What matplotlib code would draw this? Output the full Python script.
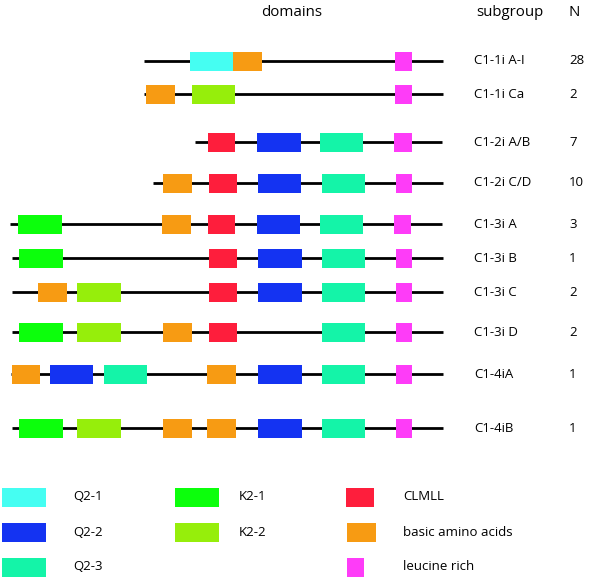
import matplotlib
matplotlib.use("Agg")
import matplotlib.pyplot as plt
from matplotlib.patches import Rectangle

plt.rcParams['font.family'] = ['Open Sans', 'DejaVu Sans']

# ---- data ----
subgroups = ["C1-1i A-I", "C1-1i Ca", "C1-2i A/B", "C1-2i C/D", "C1-3i A",
             "C1-3i B", "C1-3i C", "C1-3i D", "C1-4iA", "C1-4iB"]
counts = ["28", "2", "7", "10", "3", "1", "2", "2", "1", "1"]
line_start = [144, 144, 195, 153, 10, 12, 12, 12, 11, 12]
line_end = [443, 443, 442, 443, 442, 443, 443, 443, 443, 443]
domains = [
    [("Q2-1", 190, 233), ("basic", 233, 262), ("leu", 395, 412)],
    [("basic", 146, 175), ("K2-2", 192, 235), ("leu", 395, 412)],
    [("CLMLL", 208, 235), ("Q2-2", 257, 301), ("Q2-3", 320, 363), ("leu", 394, 412)],
    [("basic", 163, 192), ("CLMLL", 209, 237), ("Q2-2", 258, 301), ("Q2-3", 322, 365), ("leu", 396, 412)],
    [("K2-1", 18, 62), ("basic", 162, 191), ("CLMLL", 208, 235), ("Q2-2", 257, 300), ("Q2-3", 320, 363), ("leu", 394, 411)],
    [("K2-1", 19, 63), ("CLMLL", 209, 237), ("Q2-2", 258, 302), ("Q2-3", 322, 365), ("leu", 396, 412)],
    [("basic", 38, 67), ("K2-2", 77, 121), ("CLMLL", 209, 237), ("Q2-2", 258, 302), ("Q2-3", 322, 365), ("leu", 396, 412)],
    [("K2-1", 19, 63), ("K2-2", 77, 121), ("basic", 163, 192), ("CLMLL", 209, 237), ("Q2-3", 322, 365), ("leu", 396, 412)],
    [("basic", 12, 40), ("Q2-2", 50, 93), ("Q2-3", 104, 147), ("basic", 207, 236), ("Q2-2", 258, 302), ("Q2-3", 322, 365), ("leu", 396, 412)],
    [("K2-1", 19, 63), ("K2-2", 77, 121), ("basic", 163, 192), ("basic", 207, 236), ("Q2-2", 258, 302), ("Q2-3", 322, 365), ("leu", 396, 412)],
]
legend_keys = ["Q2-1", "Q2-2", "Q2-3", "K2-1", "K2-2", "CLMLL", "basic", "leu"]
legend_labels = ["Q2-1", "Q2-2", "Q2-3", "K2-1", "K2-2", "CLMLL", "basic amino acids", "leucine rich"]

# ---- styles / layout ----
colors = {"Q2-1": "#45FEF2", "Q2-2": "#1433F2", "Q2-3": "#14F4A8",
          "K2-1": "#0CFF0C", "K2-2": "#96EE0B", "CLMLL": "#FE1E3C",
          "basic": "#F79B13", "leu": "#FE3CF8"}
row_y = [61, 94, 142, 183, 224, 258, 292, 332, 374, 428]
box_h = 19
legend_pos = {"Q2-1": (2, 46, 497), "Q2-2": (2, 46, 532), "Q2-3": (2, 46, 567),
              "K2-1": (175, 219, 497), "K2-2": (175, 219, 532),
              "CLMLL": (346, 374, 497), "basic": (347, 376, 532), "leu": (347, 364, 567)}
legend_text_x = {"Q2-1": 73, "Q2-2": 73, "Q2-3": 73, "K2-1": 239, "K2-2": 239,
                 "CLMLL": 403, "basic": 403, "leu": 403}

fig = plt.figure(figsize=(6.0, 5.79), dpi=100)
ax = fig.add_axes([0, 0, 1, 1])
ax.set_xlim(0, 600)
ax.set_ylim(579, 0)
ax.axis("off")

fs = 9.5
for i, name in enumerate(subgroups):
    y = row_y[i]
    ax.plot([line_start[i], line_end[i]], [y, y], color="black", lw=2.0,
            solid_capstyle="butt", zorder=1)
    for key, x0, x1 in domains[i]:
        ax.add_patch(Rectangle((x0, y - box_h / 2), x1 - x0, box_h,
                               facecolor=colors[key], edgecolor="none", zorder=2))
    ax.text(474, y, name, fontsize=fs, va="center", ha="left")
    ax.text(569, y, counts[i], fontsize=fs, va="center", ha="left")

ax.text(292, 12, "domains", fontsize=10.8, va="center", ha="center")
ax.text(510, 12, "subgroup", fontsize=10.8, va="center", ha="center")
ax.text(574, 12, "N", fontsize=10.8, va="center", ha="center")

for key, lab in zip(legend_keys, legend_labels):
    x0, x1, y = legend_pos[key]
    ax.add_patch(Rectangle((x0, y - box_h / 2), x1 - x0, box_h,
                           facecolor=colors[key], edgecolor="none"))
    ax.text(legend_text_x[key], y, lab, fontsize=fs, va="center", ha="left")

fig.savefig("out.png", dpi=100)
